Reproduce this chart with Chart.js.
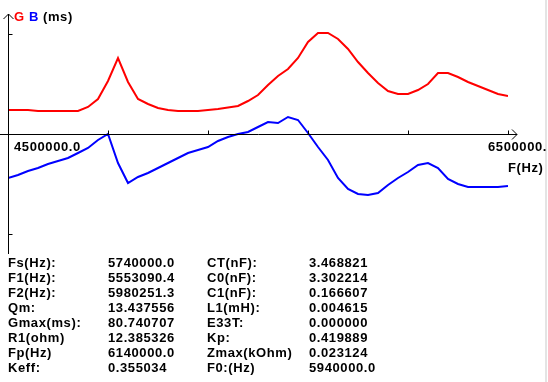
<!DOCTYPE html>
<html>
<head>
<meta charset="utf-8">
<script src="https://cdn.jsdelivr.net/npm/chart.js@4"></script>
<style>
  html, body { margin: 0; padding: 0; background: #fff; }
  #wrap { position: relative; width: 548px; height: 382px; overflow: hidden; }
  canvas { position: absolute; left: 0; top: 0; }
  .t { position: absolute; font: bold 13px "Liberation Sans", Arial, sans-serif; color: #000; white-space: nowrap; line-height: 15px; letter-spacing: 0.6px; }
  #edge { position: absolute; left: 545px; top: 0; width: 2px; height: 382px; background: #e4e4e4; }
</style>
</head>
<body>
<div id="wrap">
  <canvas id="c" width="548" height="382"></canvas>
  <div id="edge"></div>
  <div class="t" style="left:14px;top:9px;color:#ff0000">G</div>
  <div class="t" style="left:29px;top:9px;color:#0000ff">B</div>
  <div class="t" style="left:43px;top:9px;">(ms)</div>
  <div class="t" id="xmin" style="left:14px;top:139px;"></div>
  <div class="t" id="xmax" style="left:488px;top:139px;"></div>
  <div class="t" style="left:508px;top:160px;">F(Hz)</div>
  <div id="stats"></div>
</div>
<script>
// ---- data ----
const freqs = [
  4500000, 4540000, 4580000, 4620000, 4660000, 4700000, 4740000, 4780000, 4820000, 4860000,
  4900000, 4940000, 4980000, 5020000, 5060000, 5100000, 5140000, 5180000, 5220000, 5260000,
  5300000, 5340000, 5380000, 5420000, 5460000, 5500000, 5540000, 5580000, 5620000, 5660000,
  5700000, 5740000, 5780000, 5820000, 5860000, 5900000, 5940000, 5980000, 6020000, 6060000,
  6100000, 6140000, 6180000, 6220000, 6260000, 6300000, 6340000, 6380000, 6420000, 6460000,
  6500000
];
const gValues = [
  19.2, 19.2, 19.2, 18.4, 18.4, 18.4, 18.4, 18.4, 21.6, 28.0,
  42.4, 60.8, 41.6, 28.0, 24.0, 20.8, 19.2, 18.4, 18.4, 18.4,
  19.2, 20.0, 21.2, 22.4, 26.4, 31.2, 39.2, 46.4, 52.0, 60.8,
  73.6, 80.8, 80.8, 76.0, 68.0, 57.6, 48.8, 40.8, 34.4, 32.0,
  32.0, 35.2, 40.0, 48.8, 48.8, 45.6, 41.6, 38.4, 35.2, 32.0,
  30.4
];
const bValues = [
  -35.2, -32.8, -29.6, -27.2, -24.0, -21.6, -19.2, -15.2, -11.2, -4.8,
  0.0, -23.2, -39.2, -34.4, -31.2, -27.2, -23.2, -19.2, -15.2, -12.8,
  -10.4, -5.6, -2.4, 0.0, 1.6, 5.6, 9.6, 8.8, 13.6, 11.2,
  0.8, -10.4, -20.8, -35.2, -44.0, -48.0, -48.8, -47.2, -40.8, -35.2,
  -30.4, -24.8, -23.2, -27.2, -36.0, -40.0, -42.4, -42.4, -42.4, -42.4,
  -41.6
];
const xTicks = [4900000, 5300000, 5700000, 6100000, 6500000];
const yTicks = [80, -80];
const xMinLabel = "4500000.0";
const xMaxLabel = "6500000.";

const statLabels1 = ["Fs(Hz):", "F1(Hz):", "F2(Hz):", "Qm:", "Gmax(ms):", "R1(ohm)", "Fp(Hz)", "Keff:"];
const statValues1 = ["5740000.0", "5553090.4", "5980251.3", "13.437556", "80.740707", "12.385326", "6140000.0", "0.355034"];
const statLabels2 = ["CT(nF):", "C0(nF):", "C1(nF):", "L1(mH):", "E33T:", "Kp:", "Zmax(kOhm)", "F0:(Hz)"];
const statValues2 = ["3.468821", "3.302214", "0.166607", "0.004615", "0.000000", "0.419889", "0.023124", "5940000.0"];

// ---- text ----
document.getElementById('xmin').textContent = xMinLabel;
document.getElementById('xmax').textContent = xMaxLabel;
const stats = document.getElementById('stats');
const cols = [[statLabels1, 8], [statValues1, 108], [statLabels2, 207], [statValues2, 309]];
cols.forEach(([arr, left]) => {
  arr.forEach((s, i) => {
    const d = document.createElement('div');
    d.className = 't';
    d.style.left = left + 'px';
    d.style.top = (255 + 15 * i) + 'px';
    d.textContent = s;
    stats.appendChild(d);
  });
});

// ---- axes plugin ----
const axesPlugin = {
  id: 'axesPlugin',
  afterDatasetsDraw(chart) {
    const ctx = chart.ctx;
    const xs = chart.scales.x, ys = chart.scales.y;
    const y0 = Math.round(ys.getPixelForValue(0)) + 0.5;
    const x0 = Math.round(xs.getPixelForValue(xs.min)) + 0.5;
    const xEnd = Math.round(xs.getPixelForValue(xs.max));
    const yTop = Math.round(ys.getPixelForValue(ys.max));
    const yBot = Math.round(ys.getPixelForValue(ys.min));
    ctx.save();
    ctx.strokeStyle = '#000';
    ctx.lineWidth = 1;
    ctx.beginPath();
    ctx.moveTo(0, y0); ctx.lineTo(xEnd + 9, y0);
    ctx.moveTo(xEnd + 4, y0 - 5); ctx.lineTo(xEnd + 9, y0); ctx.lineTo(xEnd + 4, y0 + 5);
    ctx.moveTo(x0, yTop); ctx.lineTo(x0, yBot);
    ctx.moveTo(x0 - 5, yTop + 5); ctx.lineTo(x0, yTop); ctx.lineTo(x0 + 5, yTop + 5);
    xTicks.forEach(v => {
      const px = Math.round(xs.getPixelForValue(v)) + 0.5;
      ctx.moveTo(px, y0 - 4); ctx.lineTo(px, y0);
    });
    yTicks.forEach(v => {
      const py = Math.round(ys.getPixelForValue(v)) + 0.5;
      ctx.moveTo(x0, py); ctx.lineTo(x0 + 4, py);
    });
    ctx.stroke();
    ctx.restore();
  }
};

new Chart(document.getElementById('c'), {
  type: 'line',
  data: {
    datasets: [
      { label: 'G', data: freqs.map((f, i) => ({ x: f, y: gValues[i] })), borderColor: '#ff0000', borderWidth: 2, pointRadius: 0, tension: 0, fill: false },
      { label: 'B', data: freqs.map((f, i) => ({ x: f, y: bValues[i] })), borderColor: '#0000ff', borderWidth: 2, pointRadius: 0, tension: 0, fill: false }
    ]
  },
  options: {
    responsive: false,
    animation: false,
    devicePixelRatio: 1,
    layout: { padding: { left: 8, right: 40, top: 14, bottom: 128 } },
    plugins: { legend: { display: false }, tooltip: { enabled: false }, title: { display: false } },
    scales: {
      x: { type: 'linear', min: 4500000, max: 6500000, display: false },
      y: { type: 'linear', min: -96, max: 96, display: false }
    }
  },
  plugins: [axesPlugin]
});
</script>
</body>
</html>
